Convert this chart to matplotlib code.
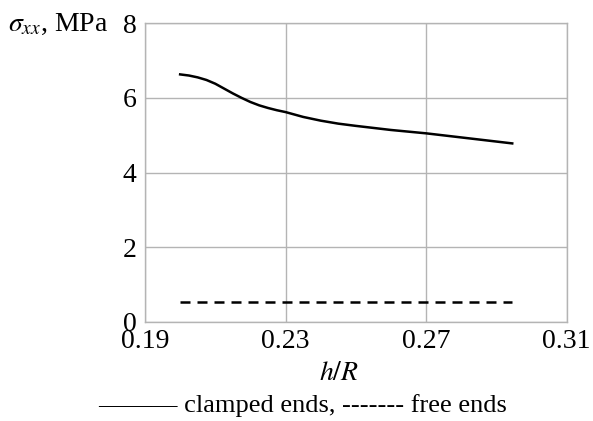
import numpy as np
import matplotlib
matplotlib.use("Agg")
import matplotlib.pyplot as plt

plt.rcParams['font.family'] = ['Liberation Serif', 'DejaVu Serif']
plt.rcParams['mathtext.fontset'] = 'stix'

# clamped ends (solid)
h_R_clamped = [0.200, 0.2025, 0.205, 0.2075, 0.210, 0.2125, 0.215, 0.2175, 0.220, 0.2225,
               0.225, 0.2275, 0.230, 0.235, 0.240, 0.245, 0.250, 0.260, 0.270, 0.280, 0.2945]
sigma_clamped = [6.63, 6.60, 6.55, 6.48, 6.38, 6.25, 6.12, 6.00, 5.89, 5.80,
                 5.73, 5.67, 5.62, 5.49, 5.39, 5.31, 5.25, 5.14, 5.05, 4.94, 4.78]

# free ends (dashed)
h_R_free = [0.200, 0.2945]
sigma_free = [0.52, 0.52]

xticks = [0.19, 0.23, 0.27, 0.31]
xticklabels = ['0.19', '0.23', '0.27', '0.31']
yticks = [0, 2, 4, 6, 8]

fig = plt.figure(figsize=(5.93, 4.21), dpi=100)
ax = fig.add_axes([145/593, 1 - 321.7/421, 421.7/593, 298.4/421])

ax.plot(h_R_clamped, sigma_clamped, '-', color='black', lw=1.8)
ax.plot(h_R_free, sigma_free, '--', color='black', lw=1.8, dashes=(4, 2.8))

ax.set_xlim(0.19, 0.31)
ax.set_ylim(0, 8)
ax.set_xticks(xticks)
ax.set_xticklabels(xticklabels)
ax.set_yticks(yticks)
ax.grid(True, color='#b4b4b4', lw=1.0)
ax.set_axisbelow(True)
for s in ax.spines.values():
    s.set_color('#b4b4b4')
    s.set_linewidth(1.0)
ax.tick_params(length=0, labelsize=20, pad=6)
ax.tick_params(axis='x', pad=5)

fig.text(108/593, 1 - 24/421, r'$\sigma_{xx}$, MPa', ha='right', va='center', fontsize=20)
fig.text(339/593, 1 - 374/421, r'$h/R$', ha='center', va='center', fontsize=20)
fig.text(303/593, 1 - 406/421, '——— clamped ends, ------- free ends', ha='center', va='center', fontsize=19)

fig.savefig('out.png', dpi=100)
